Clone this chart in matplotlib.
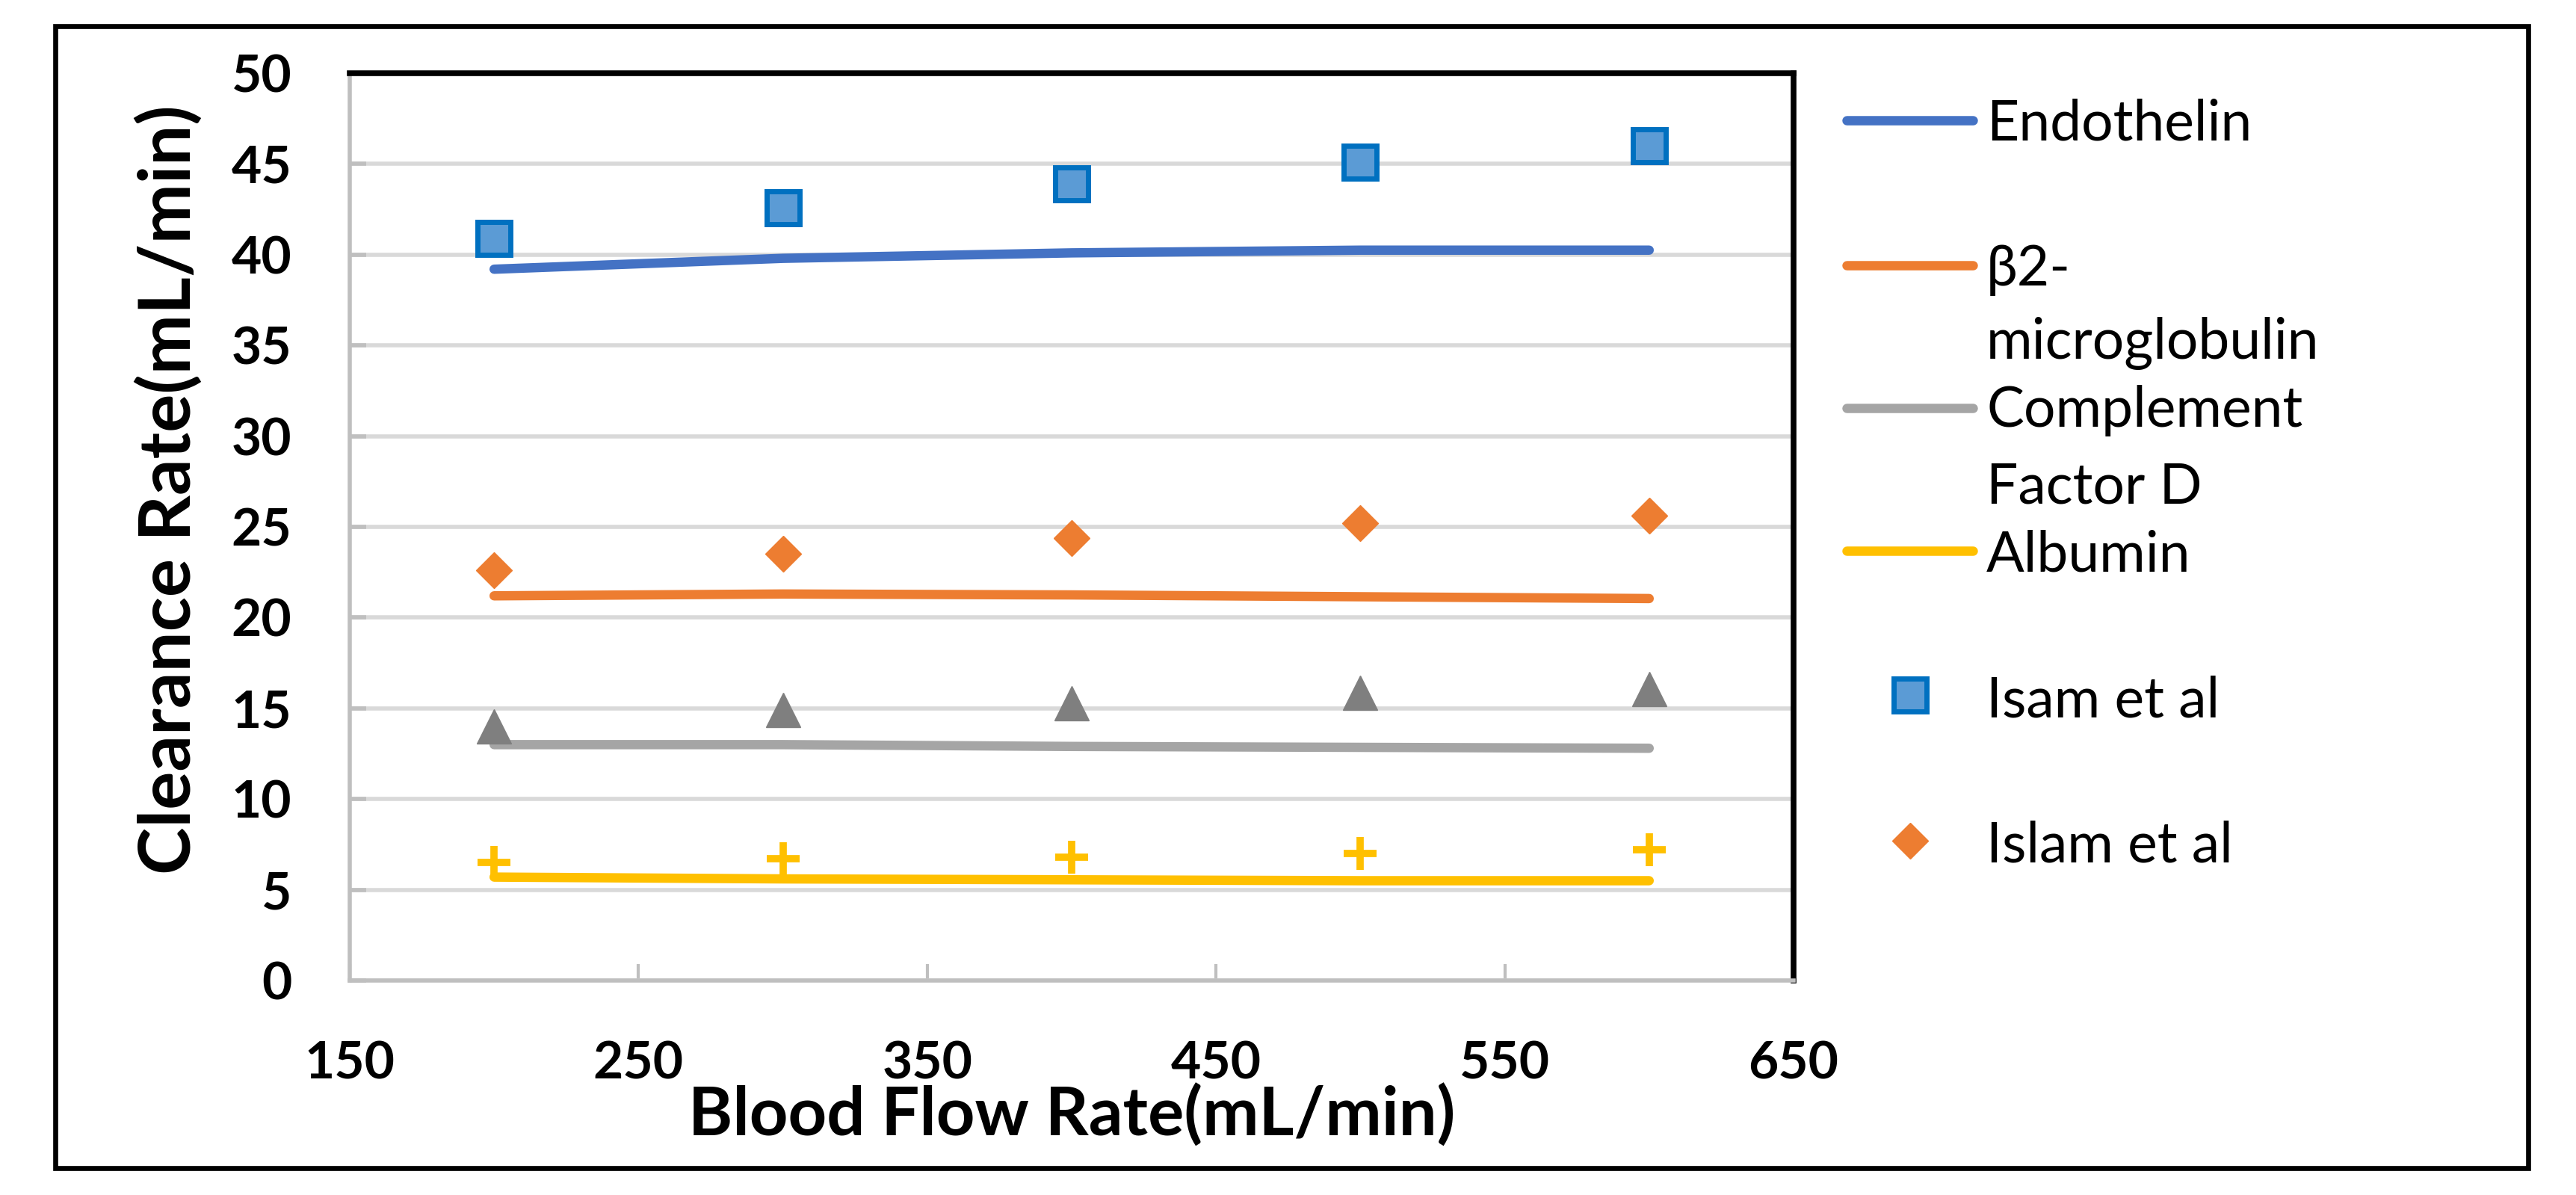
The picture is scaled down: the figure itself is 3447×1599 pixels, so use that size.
import matplotlib.pyplot as plt
from matplotlib.lines import Line2D
from matplotlib.patches import Rectangle

plt.rcParams['font.family'] = ['Lato', 'DejaVu Sans']

# ── data ────────────────────────────────────────────────────────────────
flow = [200, 300, 400, 500, 600]

# model curves
endothelin = [39.2, 39.8, 40.1, 40.25, 40.25]
b2m = [21.2, 21.3, 21.25, 21.15, 21.05]
cfd = [13.0, 13.0, 12.9, 12.85, 12.8]
albumin = [5.7, 5.6, 5.55, 5.5, 5.5]

# literature points
isam_endothelin = [40.9, 42.6, 43.9, 45.1, 46.0]
islam_b2m = [22.6, 23.5, 24.4, 25.2, 25.6]
islam_cfd = [14.0, 14.9, 15.3, 15.85, 16.05]
islam_albumin = [6.5, 6.7, 6.8, 7.0, 7.2]

x_ticks = [150, 250, 350, 450, 550, 650]
y_ticks = [0, 5, 10, 15, 20, 25, 30, 35, 40, 45, 50]

BLUE, ORANGE, GRAY, YELLOW = "#4472C4", "#ED7D31", "#A5A5A5", "#FFC000"

W, H = 3447, 1599
fig = plt.figure(figsize=(W / 100, H / 100), dpi=100)
ax = fig.add_axes([468 / W, 1 - 1312 / H, (2400 - 468) / W, (1312 - 98) / H])


def fx(px):
    return px / W


def fy(py):
    return 1 - py / H


# lines
for vals, c in [(endothelin, BLUE), (b2m, ORANGE), (cfd, GRAY), (albumin, YELLOW)]:
    ax.plot(flow, vals, color=c, lw=9, solid_capstyle="round", zorder=3)

# markers
ax.plot(flow, isam_endothelin, ls="none", marker="s", ms=31, mfc="#5B9BD5",
        mec="#0070C0", mew=5, zorder=4)
ax.plot(flow, islam_b2m, ls="none", marker="D", ms=24, mfc=ORANGE,
        mec=ORANGE, mew=1, zorder=4)
ax.plot(flow, islam_cfd, ls="none", marker="^", ms=33, mfc="#7F7F7F",
        mec="#7F7F7F", mew=1, zorder=4)
ax.plot(flow, islam_albumin, ls="none", marker="+", ms=31, mec=YELLOW,
        mew=7, zorder=4)

ax.set_xlim(150, 650)
ax.set_ylim(0, 50)
ax.set_xticks(x_ticks)
ax.set_yticks(y_ticks)
ax.yaxis.grid(True, color="#D9D9D9", lw=4)
ax.set_axisbelow(True)

for s in ["top", "right"]:
    ax.spines[s].set_color("black")
    ax.spines[s].set_linewidth(5.5)
for s in ["left", "bottom"]:
    ax.spines[s].set_color("#BFBFBF")
    ax.spines[s].set_linewidth(4)

ax.tick_params(axis="x", direction="in", length=16, width=3, color="#BFBFBF",
               pad=58, labelsize=50)
ax.tick_params(axis="y", direction="in", length=16, width=4, color="#BFBFBF",
               pad=56, labelsize=50)
for lab in ax.get_xticklabels() + ax.get_yticklabels():
    lab.set_fontweight("bold")

fig.text(fx(1434), fy(1492), "Blood Flow Rate(mL/min)", ha="center",
         va="center", fontsize=65, fontweight="bold")
fig.text(fx(226), fy(655), "Clearance Rate(mL/min)", ha="center",
         va="center", rotation=90, fontsize=69, fontweight="bold")

# legend (drawn by hand to match the clipped layout)
LEG = 54
legend_lines = [
    (BLUE, [("Endothelin", 187)], 161),
    (ORANGE, [("β2-", 382), ("microglobulin", 480)], 355),
    (GRAY, [("Complement", 571), ("Factor D", 673)], 546),
    (YELLOW, [("Albumin", 765)], 737),
]
for c, rows, ly in legend_lines:
    fig.add_artist(Line2D([fx(2471), fx(2640)], [fy(ly), fy(ly)], color=c,
                          lw=9, solid_capstyle="round"))
    for txt, base in rows:
        fig.text(fx(2658), fy(base), txt, ha="left", va="baseline",
                 fontsize=LEG)

fig.add_artist(Line2D([fx(2556)], [fy(930)], ls="none", marker="s", ms=31,
                      mfc="#5B9BD5", mec="#0070C0", mew=5))
fig.text(fx(2658), fy(959), "Isam et al", ha="left", va="baseline",
         fontsize=LEG)
fig.add_artist(Line2D([fx(2556)], [fy(1125)], ls="none", marker="D", ms=24,
                      mfc=ORANGE, mec=ORANGE, mew=1))
fig.text(fx(2658), fy(1153), "Islam et al", ha="left", va="baseline",
         fontsize=LEG)

# outer frame
fig.add_artist(Rectangle((fx(74), fy(1563)), fx(3383 - 74), (1563 - 35) / H,
                         fill=False, edgecolor="black", lw=4.8))

fig.savefig("out.png", dpi=100, facecolor="white")
